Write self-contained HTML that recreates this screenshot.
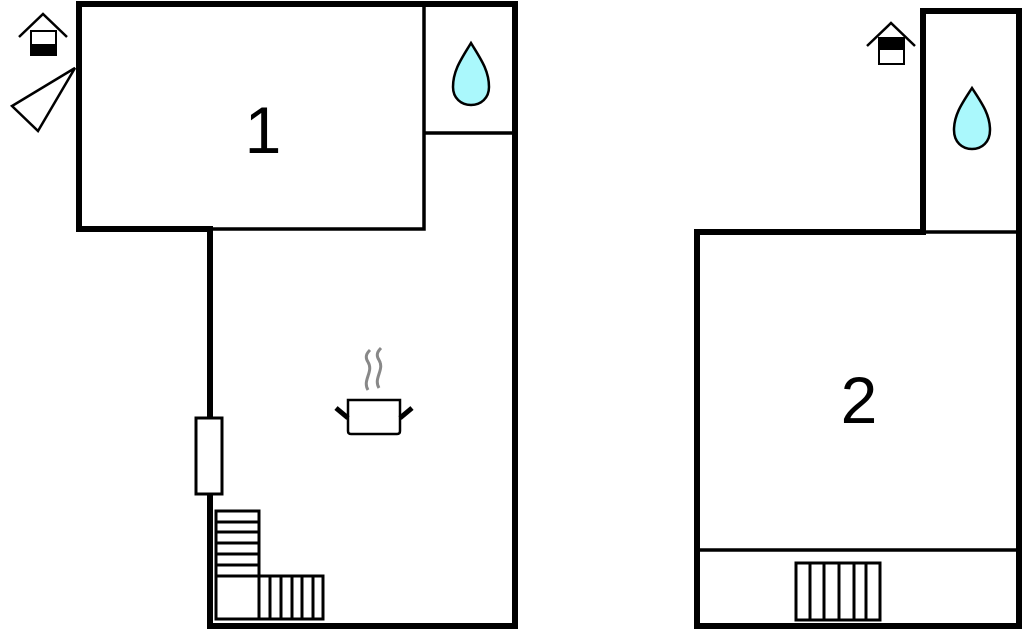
<!DOCTYPE html>
<html><head><meta charset="utf-8"><style>html,body{margin:0;padding:0;background:#fff}svg{display:block}</style></head>
<body>
<svg width="1024" height="632" viewBox="0 0 1024 632" xmlns="http://www.w3.org/2000/svg">
<g fill="none" stroke="#000" stroke-linecap="square">
<path d="M79,229 L79,4 L515,4 L515,626 L210,626 L210,229 Z" stroke-width="6"/>
<path d="M424,4 L424,229 L210,229 M424,133 L515,133" stroke-width="3.5"/>
<path d="M697,626 L697,232 L923,232 L923,11 L1019,11 L1019,626 Z" stroke-width="6"/>
<path d="M923,232 L1019,232 M697,550 L1019,550" stroke-width="3.5"/>
</g>
<rect x="196" y="418" width="26" height="76" fill="#fff" stroke="#000" stroke-width="3"/>
<g fill="none" stroke="#000" stroke-width="3">
<rect x="216" y="511" width="43" height="108" fill="#fff"/>
<path d="M216,522 H259 M216,532 H259 M216,543 H259 M216,554 H259 M216,565 H259 M216,576 H323"/>
<rect x="259" y="576" width="64" height="43"/>
<path d="M270,576 V619 M281,576 V619 M292,576 V619 M302,576 V619 M313,576 V619"/>
</g>
<g fill="none" stroke="#000" stroke-width="3">
<rect x="796" y="563" width="84" height="57"/>
<path d="M810,563 V620 M824,563 V620 M839,563 V620 M854,563 V620 M866,563 V620"/>
</g>
<path d="M368,390 C362,380 374,372 368,362 C364,356 368,352 370,350 M379,388 C373,378 385,370 379,360 C375,354 379,350 381,348" fill="none" stroke="#888" stroke-width="3"/>
<path d="M348,400 H400 V431 Q400,434 397,434 H351 Q348,434 348,431 Z" fill="#fff" stroke="#000" stroke-width="2.5"/>
<path d="M336,408 L348,418 M412,408 L400,418" stroke="#000" stroke-width="5"/>
<path d="M471,43 C462,58 453,70 453,87 C453,98 461,105 471,105 C481,105 489,98 489,87 C489,70 480,58 471,43 Z" fill="#aaf8fc" stroke="#000" stroke-width="2.5"/>
<path d="M972,88 C963,102 954,114 954,130 C954,142 962,149 972,149 C982,149 990,142 990,130 C990,114 981,102 972,88 Z" fill="#aaf8fc" stroke="#000" stroke-width="2.5"/>
<path d="M19,37 L43,14 L67,37" fill="none" stroke="#000" stroke-width="2.5"/>
<rect x="31" y="31" width="25" height="24" fill="#fff" stroke="#000" stroke-width="2"/>
<rect x="30" y="44" width="27" height="12" fill="#000"/>
<path d="M867,46 L891,23 L915,46" fill="none" stroke="#000" stroke-width="2.5"/>
<rect x="879" y="38" width="25" height="26" fill="#fff" stroke="#000" stroke-width="2"/>
<rect x="878" y="37" width="27" height="13" fill="#000"/>
<path d="M75,68 L12,106 L38,131 Z" fill="#fff" stroke="#000" stroke-width="2.5"/>
<text x="263" y="153" font-family="Liberation Sans, sans-serif" font-size="66" text-anchor="middle" fill="#000">1</text>
<text x="859" y="423" font-family="Liberation Sans, sans-serif" font-size="66" text-anchor="middle" fill="#000">2</text>
</svg>
</body></html>
